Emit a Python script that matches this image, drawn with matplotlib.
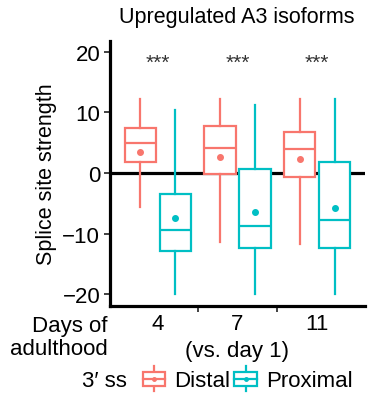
import matplotlib
matplotlib.use("Agg")
import matplotlib.pyplot as plt
from matplotlib.legend_handler import HandlerBase
from matplotlib.patches import Rectangle
from matplotlib.lines import Line2D

plt.rcParams['font.family'] = ['Liberation Sans', 'DejaVu Sans']

# ---- data ----
groups = ["4", "7", "11"]
series = ["Distal", "Proximal"]
colors = ["#F8766D", "#00BFC4"]
# per series, per group: whislo, q1, med, q3, whishi, mean
distal_whislo = [-5.6, -11.4, -11.7]
distal_q1 = [1.8, -0.1, -0.7]
distal_med = [4.9, 4.1, 3.9]
distal_q3 = [7.5, 7.7, 6.8]
distal_whishi = [12.3, 12.3, 12.3]
distal_mean = [3.5, 2.65, 2.4]

prox_whislo = [-20.0, -20.0, -20.0]
prox_q1 = [-12.8, -12.4, -12.3]
prox_med = [-9.4, -8.8, -7.7]
prox_q3 = [-3.4, 0.6, 1.8]
prox_whishi = [10.4, 11.3, 12.2]
prox_mean = [-7.5, -6.4, -5.8]

signif = ["***", "***", "***"]
yticks = [-20, -10, 0, 10, 20]

W, H = 375, 406
fig = plt.figure(figsize=(W / 100, H / 100), dpi=100)
ax = fig.add_axes([110 / W, 1 - 306.7 / H, 255 / W, (306.7 - 42) / H])

lw = 1.6
offset = 0.22
width = 0.39
FS = 16

def make_stats(wl, q1, med, q3, wh, mean):
    return [dict(whislo=a, q1=b, med=c, q3=d, whishi=e, mean=f, fliers=[])
            for a, b, c, d, e, f in zip(wl, q1, med, q3, wh, mean)]

all_stats = [
    make_stats(distal_whislo, distal_q1, distal_med, distal_q3, distal_whishi, distal_mean),
    make_stats(prox_whislo, prox_q1, prox_med, prox_q3, prox_whishi, prox_mean),
]

ax.axhline(0, color="black", lw=2.3, zorder=1)

for si, (stats, col) in enumerate(zip(all_stats, colors)):
    pos = [i + 1 + (offset if si else -offset) for i in range(len(groups))]
    ax.bxp(stats, positions=pos, widths=width, showmeans=True, showcaps=False,
           showfliers=False, patch_artist=True,
           boxprops=dict(facecolor="white", edgecolor=col, linewidth=lw),
           medianprops=dict(color=col, linewidth=lw),
           whiskerprops=dict(color=col, linewidth=lw),
           meanprops=dict(marker="o", markerfacecolor=col, markeredgecolor=col,
                          markersize=4),
           manage_ticks=False, zorder=2)

for i, s in enumerate(signif):
    ax.text(i + 1, 18.3, s, ha="center", va="center", fontsize=15, color="#333333")

ax.set_xlim(0.4, 3.6)
ax.set_ylim(-21.9, 21.8)
ax.set_yticks(yticks)
ax.set_yticklabels([str(t).replace("-", "\u2212") for t in yticks], fontsize=FS)
ax.set_xticks([1.5, 2.5])
ax.set_xticklabels([])
ax.tick_params(axis="both", colors="#333333", length=4, width=1.3, labelcolor="black",
               pad=3)
for sp in ["top", "right"]:
    ax.spines[sp].set_visible(False)
for sp in ["left", "bottom"]:
    ax.spines[sp].set_linewidth(2.3)
    ax.spines[sp].set_color("black")
ax.set_ylabel("Splice site strength", fontsize=15.5, labelpad=4)

# group labels
for i, g in enumerate(groups):
    ax.text(i + 1, 1 - 324 / H, g, transform=ax.get_xaxis_transform() if False else
            __import__("matplotlib.transforms", fromlist=["x"]).blended_transform_factory(
                ax.transData, fig.transFigure),
            ha="center", va="center", fontsize=FS)
fig.text(108 / W, 1 - 338 / H, "Days of\nadulthood", ha="right", va="center",
         fontsize=FS, linespacing=1.1)
fig.text(237 / W, 1 - 352 / H, "(vs. day 1)", ha="center", va="center", fontsize=FS)
fig.text(237 / W, 1 - 18 / H, "Upregulated A3 isoforms", ha="center", va="center",
         fontsize=15.5)


class BoxHandler(HandlerBase):
    def __init__(self, color):
        super().__init__()
        self.color = color

    def create_artists(self, legend, orig_handle, xdescent, ydescent, width, height,
                       fontsize, trans):
        c = self.color
        cx = -xdescent + width / 2
        bw = width * 0.85
        y0 = -ydescent
        arts = [
            Line2D([cx, cx], [y0 - height * 0.3, y0 + height * 1.3], color=c, lw=lw),
            Rectangle((cx - bw / 2, y0 + height * 0.05), bw, height * 0.9,
                      facecolor="white", edgecolor=c, lw=lw),
            Line2D([cx - bw / 2, cx + bw / 2], [y0 + height * 0.5] * 2, color=c, lw=lw),
            Line2D([cx], [y0 + height * 0.5], marker="o", color=c, markersize=2.5, lw=0),
        ]
        for a in arts:
            a.set_transform(trans)
        return arts


h1 = Line2D([], [])
h2 = Line2D([], [])
leg = fig.legend([h1, h2], series, loc="center", bbox_to_anchor=(246.5 / W, 1 - 382 / H),
                 ncol=2, frameon=False, fontsize=FS, handlelength=1.2,
                 handletextpad=0.3, columnspacing=0.1, borderpad=0, borderaxespad=0,
                 handler_map={h1: BoxHandler(colors[0]), h2: BoxHandler(colors[1])})
fig.text(127 / W, 1 - 382 / H, "3\u2032 ss", ha="right", va="center", fontsize=FS)

fig.savefig("out.png", dpi=100)
